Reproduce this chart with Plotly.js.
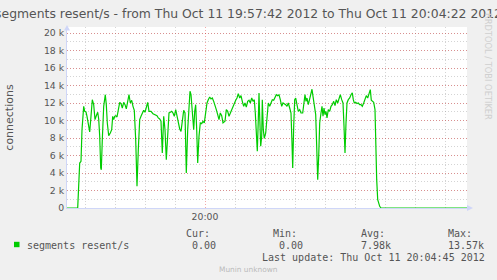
<!DOCTYPE html>
<html>
<head>
<meta charset="utf-8">
<script src="https://cdn.plot.ly/plotly-3.0.1.min.js"></script>
<style>html,body{margin:0;padding:0;background:#f0f0f0;}#chart{width:497px;height:280px;}</style>
</head>
<body>
<div id="chart"></div>
<script>
// ---- data (seconds after 19:57:42, connections) ----
const startTime = "2012-10-11 19:57:42";
const endTime = "2012-10-11 20:04:22";
const secs = [0,10.7,12.7,14,15,16.7,17.7,19,20,21.7,22.7,24,25.3,26.7,28,29.3,30.7,31.7,32.7,33.7,34.3,35.3,36.7,38.3,39.3,40.3,41.7,43.3,44.7,45.7,46.7,47.7,48.7,50,51.3,52.7,54,55.3,56.7,58,59.3,60.7,62,63.3,64.7,66,67.3,68.7,70,71.3,72.7,74,75.3,76.7,78,80,80.7,82,84,86,88,90,91.3,92.7,94,95.3,96.7,98,99.3,100.7,102,103.3,104.7,106,107.3,108.7,110,111.3,112.7,114,115.3,116.7,118,119.3,120.7,122,123,124,125.3,126.7,127.7,128.7,129.7,130.7,132,133.3,134.7,136,137.3,138.7,140,141.3,142.7,144,145.3,146.7,148,149.3,150.7,152,153.3,154.7,156,158,159.3,160.7,162,163.3,164.7,166,167.3,168.7,170,171.3,172.7,174,175.3,176.7,178,179.3,180.7,182,183.3,184.7,186,187.3,188.3,189.3,190.3,191.3,192,192.7,193.7,194.7,195.3,196.3,197.3,198.7,200,201.3,202.7,204,205.3,206.7,208,209.3,210.7,212,213.3,214.7,216,217.3,218.7,220,221.3,222.7,224,225,225.7,226.7,227.7,228.7,230,231.3,232.7,234,235.7,237,238,239,240,241.3,242.7,244,245,246,247.3,248.7,249.7,250.7,251.7,252.7,254,255,256,257,258,259,260,261.3,262.7,264,265.3,266.7,268,269.3,270.7,272,273.3,274.7,276,277,278,279,280,281.3,282.7,284,285.3,286.3,287.3,288.7,290,291.3,292.7,294,295.3,296.7,298,299.3,300.7,302,303.3,304.3,305.3,306.7,308,308.7,309.7,310.7,311.7,312.7,314,400];
const connections = [0,0,5140,5330,8950,11620,11050,10970,10480,9340,8690,10480,12380,11810,10100,10550,10940,10170,8190,4570,4380,7810,11620,12950,11810,9720,8270,8570,8950,10480,10100,10480,10550,10400,11240,12080,11930,11430,12080,11810,11320,12190,12950,12000,12310,11620,11160,7810,2480,6670,10100,10480,10860,11160,10940,12000,12080,11050,11050,10780,10630,10550,10290,10170,9910,6290,10480,8950,5520,8000,10860,10940,11050,10860,10480,11240,10480,9720,9030,8760,10100,11160,10860,4000,8950,12380,13340,12950,10860,8950,11050,11810,8950,5140,8190,9720,9640,9910,9720,11050,12000,12380,12690,12460,12570,12190,11810,11240,10670,10100,10860,10550,9720,9910,11240,11050,10480,10860,11050,11430,12000,12310,12570,13070,12570,12840,12190,11620,12000,11540,12190,12310,12000,12570,12190,12380,10860,7810,6480,10100,13150,10480,7050,8190,12380,8950,7960,8570,10860,12000,11620,12000,12380,12310,12760,12950,12840,12950,12380,11620,12000,11930,11810,11620,12000,11430,10860,7430,4570,9340,12380,12570,11620,11050,11240,10860,10860,12380,12950,12190,12570,11810,12380,13150,13570,12760,11810,10670,7050,3240,5910,9720,10860,11620,10480,11430,10670,11050,10290,11240,11050,11620,11810,12190,11700,12380,12000,12570,12950,12380,12000,9340,6290,9720,12000,12380,12570,12950,13150,12380,12000,12080,11930,12000,11810,11810,11620,12000,12380,12840,12570,13150,13530,12310,12190,12080,11240,7050,3240,950,380,190,0,0];
const yTickVals = [0,2000,4000,6000,8000,10000,12000,14000,16000,18000,20000];
const yTickText = ["0","2 k","4 k","6 k","8 k","10 k","12 k","14 k","16 k","18 k","20 k"];
const seriesName = "segments resent/s";
const statLabels = ["Cur:","Min:","Avg:","Max:"];
const statValues = ["0.00","0.00","7.98k","13.57k"];
const lastUpdate = "Last update: Thu Oct 11 20:04:45 2012";

if (secs.length !== connections.length) { throw new Error("length mismatch " + secs.length + " vs " + connections.length); }

function toDate(s) {
  const base = Date.UTC(2012, 9, 11, 19, 57, 42);
  return new Date(base + Math.round(s * 1000)).toISOString().replace('T', ' ').replace('Z', '');
}
const xs = secs.map(toDate);

// pixel -> paper helpers for decorations (plot area 67..467 x, 27..208 y)
const L = 67, R = 30, T = 27, B = 72, W = 497, H = 280;
const PW = W - L - R, PH = H - T - B;
const px = x => (x - L) / PW;
const py = y => (H - B - y) / PH;

const FONT = "DejaVu Sans";
const MONO = "DejaVu Sans Mono";
const TXT = "#555555";
const MGRID = "rgba(222,48,48,0.42)";
const GRID = "rgba(143,143,143,0.38)";
const AXIS = "#CFD6F8";

const trace = {
  x: xs, y: connections, type: "scatter", mode: "lines",
  line: { color: "#00CC00", width: 1.2 }, hoverinfo: "skip"
};

const statX = [186, 273, 361, 448];
const valX = [192, 279, 361, 448];
const annotations = [];
function addText(text, x, y, font, size, color, anchor, angle) {
  annotations.push({
    text: text, xref: "paper", yref: "paper", x: px(x), y: py(y),
    xanchor: anchor || "left", yanchor: "middle", showarrow: false,
    borderpad: 0, borderwidth: 0, textangle: angle || 0,
    font: { family: font, size: size, color: color }
  });
}
addText(seriesName, 27, 245, MONO, 10, TXT);
statLabels.forEach((t, i) => addText(t, statX[i], 233, MONO, 10, TXT));
statValues.forEach((t, i) => addText(t, valX[i], 245, MONO, 10, TXT));
addText(lastUpdate, 262, 257, MONO, 10, TXT);
addText("Munin unknown", 248.5, 269, FONT, 7.4, "#bbbbbb", "center");
addText("RRDTOOL / TOBI OETIKER", 488, 66, FONT, 8.3, "#cfcfcf", "center", 90);

const shapes = [
  { type: "path", xref: "paper", yref: "paper",
    path: `M ${px(467)},${py(205)} L ${px(473)},${py(208)} L ${px(467)},${py(211)} Z`,
    fillcolor: AXIS, line: { width: 0 } },
  { type: "path", xref: "paper", yref: "paper",
    path: `M ${px(64)},${py(30.5)} L ${px(67)},${py(25)} L ${px(70)},${py(30.5)} Z`,
    fillcolor: AXIS, line: { width: 0 } },
  { type: "rect", xref: "paper", yref: "paper",
    x0: px(14), x1: px(19.5), y0: py(241.8), y1: py(247.2),
    fillcolor: "#00CC00", line: { width: 0 } }
];

const layout = {
  width: W, height: H,
  margin: { l: L, r: R, t: T, b: B, pad: 0 },
  paper_bgcolor: "#f0f0f0", plot_bgcolor: "#ffffff",
  showlegend: false,
  title: {
    text: "segments resent/s - from Thu Oct 11 19:57:42 2012 to Thu Oct 11 20:04:22 2012",
    xref: "container", x: 0.5, xanchor: "center",
    yref: "container", y: 1 - 14 / H, yanchor: "middle",
    font: { family: FONT, size: 12.4, color: TXT }
  },
  xaxis: {
    type: "date", range: [startTime, endTime],
    tick0: "2012-10-11 20:00:00", dtick: 300000, tickformat: "%H:%M",
    showgrid: true, gridcolor: MGRID, griddash: "1px,2px", gridwidth: 1,
    minor: { tick0: "2012-10-11 20:00:00", dtick: 30000, showgrid: true, gridcolor: GRID, griddash: "1px,2px", gridwidth: 1 },
    showline: true, linecolor: AXIS, linewidth: 1, zeroline: false,
    ticks: "", tickfont: { family: FONT, size: 9.3, color: TXT },
    fixedrange: true
  },
  yaxis: {
    range: [0, 20686],
    tickmode: "array", tickvals: yTickVals, ticktext: yTickText,
    showgrid: true, gridcolor: MGRID, griddash: "1px,2px", gridwidth: 1,
    minor: { tickmode: "linear", tick0: 0, dtick: 1000, showgrid: true, gridcolor: GRID, griddash: "1px,2px", gridwidth: 1 },
    showline: true, linecolor: AXIS, linewidth: 1, zeroline: false,
    ticks: "", tickfont: { family: FONT, size: 9.3, color: TXT },
    title: { text: "connections", standoff: 28, font: { family: FONT, size: 11, color: TXT } },
    fixedrange: true
  },
  annotations: annotations,
  shapes: shapes
};

Plotly.newPlot("chart", [trace], layout, { staticPlot: true, displayModeBar: false });
</script>
</body>
</html>
